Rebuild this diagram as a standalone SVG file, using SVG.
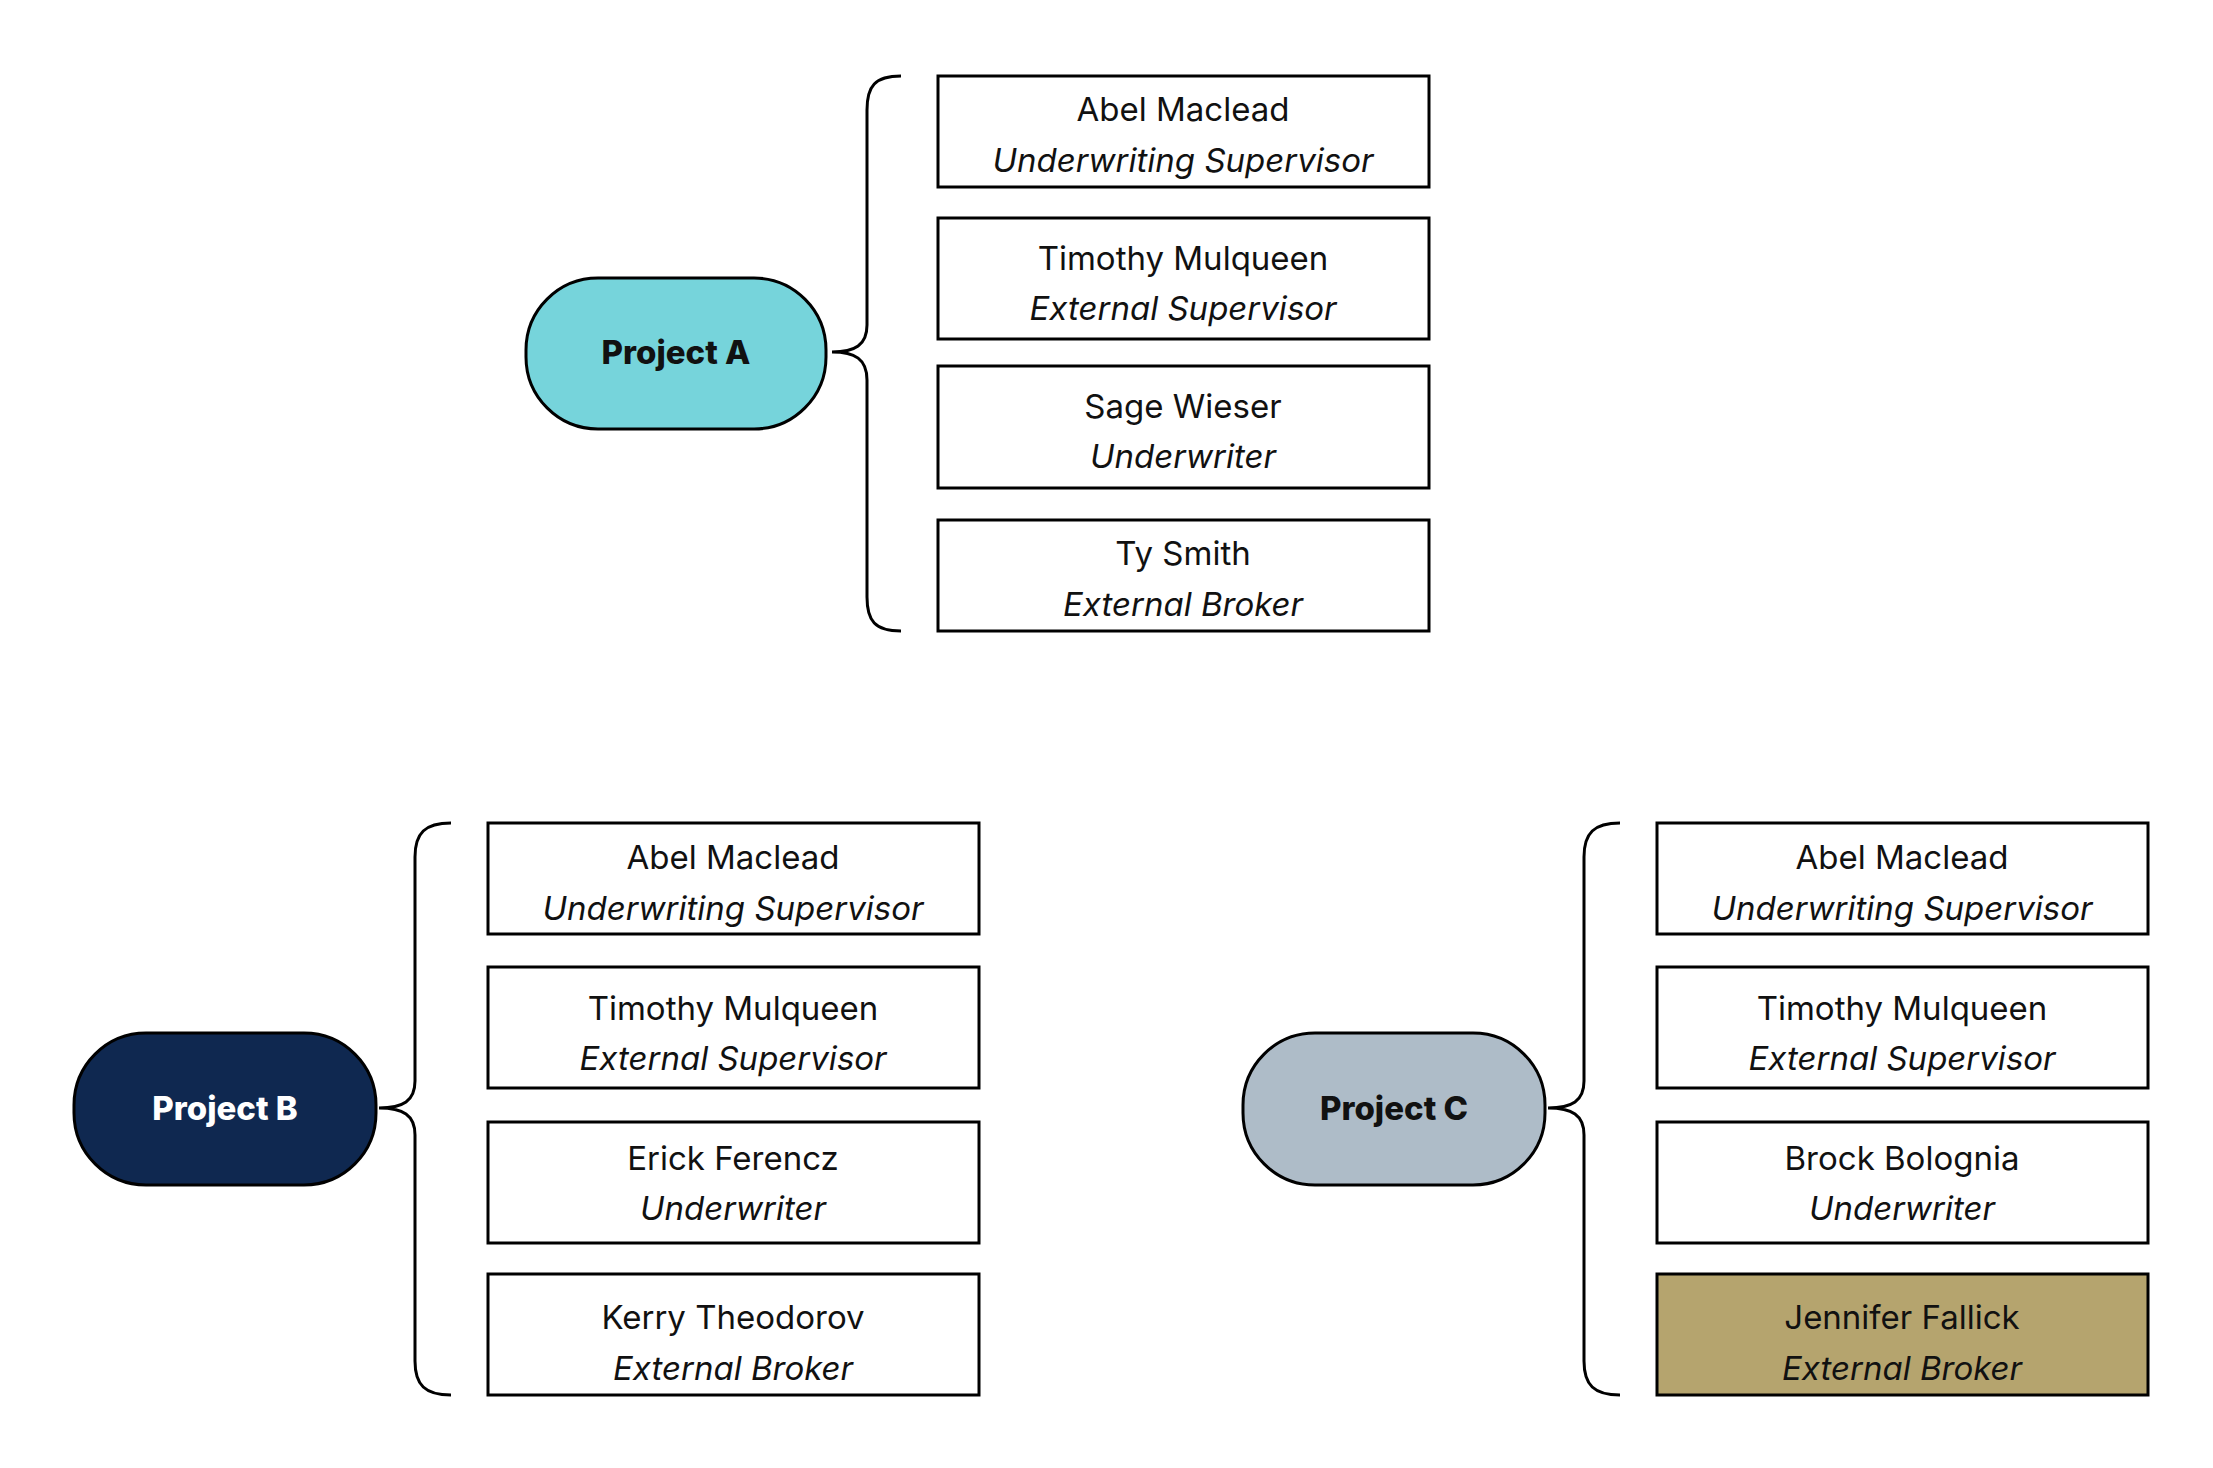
<svg xmlns="http://www.w3.org/2000/svg" width="2213" height="1468" viewBox="0 0 2213 1468">
<style>
.box{fill:#fff;stroke:#000;stroke-width:3}
.br{fill:none;stroke:#000;stroke-width:3}
.pill{stroke:#000;stroke-width:3}
.n{font-family:Inter,"Noto Sans",sans-serif;font-size:33px;text-anchor:middle;fill:#111}
.r{font-family:Inter,"Noto Sans",sans-serif;font-size:33px;font-style:italic;text-anchor:middle;fill:#111}
.p{font-family:Inter,"Noto Sans",sans-serif;font-size:33px;font-weight:800;text-anchor:middle}
</style>
<rect width="2213" height="1468" fill="#fff"/>
<g id="connectors">
<path class="br" d="M901,76 C875,76 867,86 867,110 L867,325 C867,345 855,352 832,352 C855,352 867,359 867,380 L867,597 C867,621 875,631 901,631"/>
<path class="br" d="M451,823 C425,823 415,833 415,857 L415,1081 C415,1101 403,1108 379,1108 C403,1108 415,1115 415,1135 L415,1361 C415,1385 425,1395 451,1395"/>
<path class="br" d="M1620,823 C1594,823 1584,833 1584,857 L1584,1081 C1584,1101 1572,1108 1548,1108 C1572,1108 1584,1115 1584,1135 L1584,1361 C1584,1385 1594,1395 1620,1395"/>
</g>
<g id="projA"><rect class="pill" x="526" y="278" width="300" height="151" rx="72" fill="#76D4DB"/><text class="p" x="676" y="364" fill="#111">Project A</text></g>
<g id="projB"><rect class="pill" x="74" y="1033" width="302" height="152" rx="72" fill="#0F2850"/><text class="p" x="225" y="1120" fill="#fff">Project B</text></g>
<g id="projC"><rect class="pill" x="1243" y="1033" width="302" height="152" rx="72" fill="#AEBCC8"/><text class="p" x="1394" y="1120" fill="#111">Project C</text></g>

<g id="a1"><rect class="box" x="938" y="76" width="491" height="111"/><text class="n" x="1183" y="121">Abel Maclead</text><text class="r" x="1183" y="172">Underwriting Supervisor</text></g>
<g id="a2"><rect class="box" x="938" y="218" width="491" height="121"/><text class="n" x="1183" y="270">Timothy Mulqueen</text><text class="r" x="1183" y="320">External Supervisor</text></g>
<g id="a3"><rect class="box" x="938" y="366" width="491" height="122"/><text class="n" x="1183" y="418">Sage Wieser</text><text class="r" x="1183" y="468">Underwriter</text></g>
<g id="a4"><rect class="box" x="938" y="520" width="491" height="111"/><text class="n" x="1183" y="565">Ty Smith</text><text class="r" x="1183" y="616">External Broker</text></g>

<g id="b1"><rect class="box" x="488" y="823" width="491" height="111"/><text class="n" x="733" y="869">Abel Maclead</text><text class="r" x="733" y="920">Underwriting Supervisor</text></g>
<g id="b2"><rect class="box" x="488" y="967" width="491" height="121"/><text class="n" x="733" y="1020">Timothy Mulqueen</text><text class="r" x="733" y="1070">External Supervisor</text></g>
<g id="b3"><rect class="box" x="488" y="1122" width="491" height="121"/><text class="n" x="733" y="1170">Erick Ferencz</text><text class="r" x="733" y="1220">Underwriter</text></g>
<g id="b4"><rect class="box" x="488" y="1274" width="491" height="121"/><text class="n" x="733" y="1329">Kerry Theodorov</text><text class="r" x="733" y="1380">External Broker</text></g>

<g id="c1"><rect class="box" x="1657" y="823" width="491" height="111"/><text class="n" x="1902" y="869">Abel Maclead</text><text class="r" x="1902" y="920">Underwriting Supervisor</text></g>
<g id="c2"><rect class="box" x="1657" y="967" width="491" height="121"/><text class="n" x="1902" y="1020">Timothy Mulqueen</text><text class="r" x="1902" y="1070">External Supervisor</text></g>
<g id="c3"><rect class="box" x="1657" y="1122" width="491" height="121"/><text class="n" x="1902" y="1170">Brock Bolognia</text><text class="r" x="1902" y="1220">Underwriter</text></g>
<g id="c4"><rect class="box" x="1657" y="1274" width="491" height="121" style="fill:#B5A46E"/><text class="n" x="1902" y="1329">Jennifer Fallick</text><text class="r" x="1902" y="1380">External Broker</text></g>
</svg>
